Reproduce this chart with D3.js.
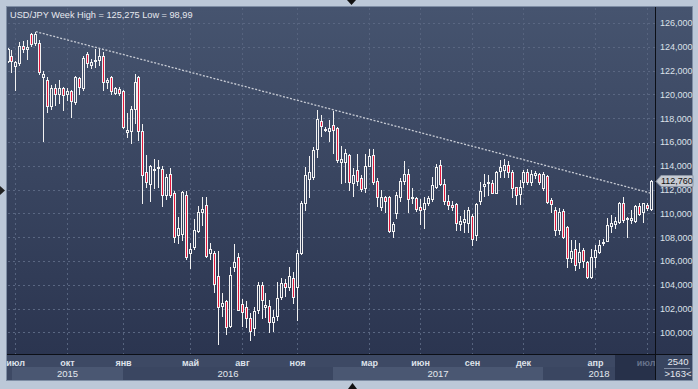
<!DOCTYPE html>
<html><head><meta charset="utf-8">
<script src="https://cdn.jsdelivr.net/npm/d3@7"></script>
<style>
html,body{margin:0;padding:0;background:#bcc8d8;overflow:hidden;}
svg{display:block;font-family:"Liberation Sans",Arial,sans-serif;}
</style></head><body>
<svg id="c" width="698" height="389"></svg>
<script>
// ---------- DATA ----------
const symbol = "USD/JPY";
const period = "Week";
const dates = [
"2015-06-22","2015-06-29","2015-07-06","2015-07-13","2015-07-20","2015-07-27","2015-08-03","2015-08-10","2015-08-17","2015-08-24",
"2015-08-31","2015-09-07","2015-09-14","2015-09-21","2015-09-28","2015-10-05","2015-10-12","2015-10-19","2015-10-26","2015-11-02",
"2015-11-09","2015-11-16","2015-11-23","2015-11-30","2015-12-07","2015-12-14","2015-12-21","2015-12-27","2015-12-28","2016-01-04",
"2016-01-11","2016-01-18","2016-01-25","2016-02-01","2016-02-08","2016-02-15","2016-02-22","2016-02-29","2016-03-07","2016-03-14",
"2016-03-21","2016-03-28","2016-04-04","2016-04-11","2016-04-18","2016-04-25","2016-05-02","2016-05-09","2016-05-16","2016-05-23",
"2016-05-30","2016-06-06","2016-06-13","2016-06-20","2016-06-27","2016-07-04","2016-07-11","2016-07-18","2016-07-25","2016-08-01",
"2016-08-08","2016-08-15","2016-08-22","2016-08-29","2016-09-05","2016-09-12","2016-09-19","2016-09-26","2016-10-03","2016-10-10",
"2016-10-17","2016-10-24","2016-10-31","2016-11-07","2016-11-14","2016-11-21","2016-11-28","2016-12-05","2016-12-12","2016-12-19",
"2016-12-25","2016-12-26","2017-01-02","2017-01-09","2017-01-16","2017-01-23","2017-01-30","2017-02-06","2017-02-13","2017-02-20",
"2017-02-27","2017-03-06","2017-03-13","2017-03-20","2017-03-27","2017-04-03","2017-04-10","2017-04-17","2017-04-24","2017-05-01",
"2017-05-08","2017-05-15","2017-05-22","2017-05-29","2017-06-05","2017-06-12","2017-06-19","2017-06-26","2017-07-03","2017-07-10",
"2017-07-17","2017-07-24","2017-07-31","2017-08-07","2017-08-14","2017-08-21","2017-08-28","2017-09-04","2017-09-11","2017-09-18",
"2017-09-25","2017-10-02","2017-10-09","2017-10-16","2017-10-23","2017-10-30","2017-11-06","2017-11-13","2017-11-20","2017-11-27",
"2017-12-04","2017-12-11","2017-12-18","2017-12-24","2017-12-25","2018-01-01","2018-01-08","2018-01-15","2018-01-22","2018-01-29",
"2018-02-05","2018-02-12","2018-02-19","2018-02-26","2018-03-05","2018-03-12","2018-03-19","2018-03-26","2018-04-02","2018-04-09",
"2018-04-16","2018-04-23","2018-04-30","2018-05-07","2018-05-14","2018-05-21","2018-05-28","2018-06-04","2018-06-11","2018-06-18",
"2018-06-25","2018-07-02","2018-07-09"
];
const open = [
122.8,123.2,122.4,122.6,124.1,123.85,125.05,124.3,124.35,121.5,
121.25,119.0,120.55,120.05,120.5,120.0,120.3,119.4,121.35,120.5,
123.4,122.5,122.8,122.85,123.25,121.0,121.45,120.15,120.45,120.25,
116.8,116.9,118.75,121.45,116.95,113.5,112.5,113.7,113.8,113.7,
111.55,113.35,111.7,108.15,108.3,111.55,106.65,107.2,108.5,110.15,
110.7,106.65,106.7,104.7,102.2,102.6,100.5,105.5,106.3,102.4,
102.1,101.2,100.35,101.9,104.0,102.15,102.2,100.9,101.4,103.0,
104.15,103.85,104.6,103.8,106.7,110.85,112.9,113.1,115.45,117.8,
117.0,116.95,117.4,117.15,114.35,114.35,114.9,112.55,113.65,112.95,
112.1,114.0,114.9,112.75,110.5,111.35,111.35,108.5,110.0,111.4,
112.75,113.3,111.3,111.3,110.5,110.35,110.85,111.2,112.25,114.05,
112.5,111.07,110.7,110.8,109.15,109.3,109.22,109.78,108.2,111.07,
112.3,112.6,112.53,111.74,113.59,113.65,114.07,113.51,112.19,111.63,
112.67,113.51,112.6,113.25,113.31,112.11,113.14,111.13,110.29,108.6,
110.23,108.83,106.22,106.98,105.94,106.92,105.94,104.68,106.31,106.78,
107.48,107.71,108.94,109.11,109.31,110.85,109.55,109.45,109.39,110.62,
110.15,110.71,110.34
];
const high = [
123.9,123.7,122.8,124.4,124.5,124.6,125.2,125.275,124.6,122.0,
121.45,120.8,120.9,121.25,120.65,120.5,120.4,121.55,121.5,123.2,
123.6,123.0,123.8,123.8,123.6,121.35,121.55,120.65,120.65,120.35,
118.45,119.0,121.7,121.55,117.5,114.9,114.05,114.55,114.5,113.95,
113.35,113.8,111.85,109.7,111.85,111.85,107.5,109.5,110.6,111.4,
111.4,107.5,106.8,106.85,103.3,102.7,105.5,107.4,106.65,102.8,
102.65,101.6,102.15,104.25,104.2,103.35,102.7,101.9,104.2,104.55,
104.5,105.5,105.1,106.9,111.0,113.9,114.85,115.6,118.7,118.25,
117.3,117.85,118.6,117.25,115.65,115.4,115.0,113.85,115.0,113.25,
115.0,115.45,115.45,112.95,112.0,111.45,111.45,109.3,111.8,113.0,
114.4,113.7,112.1,111.4,111.25,111.4,111.45,113.1,114.15,114.45,
112.86,111.55,111.0,110.9,109.8,110.28,110.5,109.95,110.85,112.66,
113.3,113.2,112.8,113.55,114.49,114.55,114.43,113.65,112.25,112.8,
113.65,113.7,113.65,113.6,113.4,113.5,113.23,111.27,110.57,110.43,
110.34,108.9,107.76,107.76,107.48,107.06,106.03,106.98,107.34,107.76,
107.82,109.59,109.87,109.67,110.99,111.41,109.73,110.29,110.71,110.85,
110.9,110.9,112.81
];
const low = [
122.7,121.9,120.4,122.5,123.6,123.0,124.05,124.15,121.75,116.1,
118.55,118.8,119.1,119.25,118.7,119.5,118.1,119.2,120.0,120.35,
122.3,122.2,122.3,122.5,120.4,120.5,120.0,120.05,119.95,117.15,
116.45,115.95,117.6,116.2,110.9,112.25,111.0,112.1,112.2,110.6,
111.2,111.4,107.6,107.55,107.8,106.2,105.4,107.05,108.4,109.05,
106.35,106.2,103.4,98.99,101.4,99.9,100.45,105.2,101.85,100.55,
100.45,99.4,99.8,101.65,101.2,101.3,100.0,100.1,101.05,102.8,
103.05,103.55,102.45,101.05,106.6,110.25,111.35,112.9,114.7,116.5,
116.9,116.05,115.05,114.3,112.55,112.6,111.95,111.5,112.4,111.85,
111.8,113.95,112.5,110.6,110.3,110.15,108.45,108.05,109.6,111.0,
112.5,110.15,110.85,110.2,109.1,108.8,110.7,111.05,112.1,112.4,
110.8,110.34,110.28,108.6,108.6,108.47,108.47,107.34,107.76,110.79,
111.46,111.55,111.68,111.68,113.09,113.09,113.09,111.4,110.79,110.79,
112.19,112.5,112.4,113.0,112.5,111.97,110.9,110.15,108.19,108.27,
107.9,105.47,105.94,105.24,105.38,105.52,104.54,104.57,105.47,106.64,
107.34,107.65,108.47,108.75,109.22,109.31,108.05,109.22,109.31,109.87,
109.31,110.29,110.29
];
const close = [
123.8,122.8,122.7,124.1,123.8,123.95,124.25,125.1,121.9,121.7,
119.0,120.5,120.05,120.5,119.95,120.3,119.45,121.45,120.65,123.1,
122.6,122.75,122.9,123.2,121.0,121.2,120.3,120.5,120.1,117.25,
117.05,118.8,121.05,116.95,113.2,112.65,113.95,113.75,113.9,111.55,
113.1,111.55,108.0,108.75,111.8,106.35,107.05,108.6,110.15,110.35,
106.45,107.0,104.1,102.1,102.45,100.45,104.8,105.95,101.9,101.75,
101.2,100.15,101.8,104.0,102.7,102.3,100.9,101.3,102.85,104.15,
103.8,104.7,103.0,106.65,110.85,113.2,113.5,115.3,117.9,117.35,
117.1,117.2,117.0,114.45,114.6,115.1,112.6,113.25,112.75,112.05,
114.0,114.8,112.65,111.35,111.4,111.05,108.55,109.1,111.55,112.75,
113.3,111.25,111.4,110.35,110.3,110.85,111.3,112.35,113.9,112.5,
111.07,110.7,110.5,109.16,109.4,109.5,110.28,107.82,110.8,111.9,
112.5,112.62,111.74,113.5,113.87,114.07,113.51,112.11,111.55,112.19,
113.51,112.6,113.3,113.4,112.67,113.31,110.99,110.79,108.6,110.15,
107.99,106.22,106.87,105.66,106.78,106.03,104.68,106.35,106.92,107.34,
107.59,109.03,109.17,109.39,110.85,109.45,109.6,109.59,110.62,109.95,
110.85,110.43,112.76
];
const priceTicks = [100,102,104,106,108,110,112,114,116,118,120,122,124,126];
const monthTicks = ["2015-07","2015-10","2016-01","2016-05","2016-08","2016-11","2017-03","2017-06","2017-09","2017-12","2018-04","2018-07"];
const monthLabels = ["июл","окт","янв","май","авг","ноя","мар","июн","сен","дек","апр","июл"];
const years = ["2015","2016","2017","2018"];
const trendFrom = {date:"2015-08-10", value:125.275};
const trendTo = {date:"2018-07-09", value:111.7};
const shadeFrom = "2018-05-07";
const infoTop = "2540";

// ---------- LAYOUT ----------
const W = 698, H = 389;
const P = {left:8, right:655, top:8, bottom:354};
const n = dates.length;
const x = d3.scaleLinear().domain([0, n-1]).range([8, 651]);
const y = d3.scaleLinear().domain([100, 126]).range([332.4, 23]);
const loc = d3.formatLocale({decimal:",", thousands:" ", grouping:[3], currency:["",""]});
const f3 = loc.format(".3f"), fTrim = loc.format(".3~f");

const svg = d3.select("#c");
const defs = svg.append("defs");
const gr = defs.append("linearGradient").attr("id","bg").attr("gradientUnits","userSpaceOnUse")
  .attr("x1",0).attr("y1",P.top).attr("x2",0).attr("y2",P.bottom);
gr.append("stop").attr("offset",0).attr("stop-color","#46546f");
gr.append("stop").attr("offset",1).attr("stop-color","#2b3550");
defs.append("clipPath").attr("id","clip").append("rect")
  .attr("x",P.left).attr("y",P.top).attr("width",P.right-P.left).attr("height",P.bottom-P.top);

// outer frame
svg.append("rect").attr("width",W).attr("height",H).attr("fill","#bcc8d8");
svg.append("rect").attr("x",6).attr("y",6).attr("width",687).attr("height",375).attr("fill","#7f8ea5");
svg.append("rect").attr("x",7).attr("y",7).attr("width",685).attr("height",347).attr("fill","url(#bg)");

// bottom axis background
svg.append("rect").attr("x",7).attr("y",354).attr("width",P.right-7).attr("height",26).attr("fill","#3d4964");
svg.append("rect").attr("x",P.right).attr("y",354).attr("width",692-P.right).attr("height",26).attr("fill","#384560");

// grid
const gridG = svg.append("g");
gridG.selectAll("line.h").data(priceTicks).join("line")
  .attr("x1",P.left).attr("x2",P.right)
  .attr("y1",d=>Math.round(y(d))+0.5).attr("y2",d=>Math.round(y(d))+0.5)
  .attr("stroke","#5a6782").attr("stroke-dasharray","2,3");
const monthIdx = monthTicks.map(m => dates.findIndex(d => d.startsWith(m)));
gridG.selectAll("line.v").data(monthIdx).join("line")
  .attr("x1",d=>Math.floor(x(d))+0.5).attr("x2",d=>Math.floor(x(d))+0.5)
  .attr("y1",P.top).attr("y2",P.bottom)
  .attr("stroke","#56637e").attr("stroke-dasharray","2,3");

// year bands
const yearStart = years.map(yy => dates.findIndex(d => d.startsWith(yy)));
const band = svg.append("g");
years.forEach((yy,k)=>{
  const x0 = Math.max(Math.floor(x(yearStart[k])), P.left+4);
  const x1 = k < years.length-1 ? Math.floor(x(yearStart[k+1])) : P.right;
  band.append("rect").attr("x",x0).attr("y",367).attr("width",x1-x0).attr("height",13)
    .attr("fill", k%2===0 ? "#4a5772" : "#3a4661");
  band.append("text").attr("x",(x0+x1)/2).attr("y",376.5).attr("text-anchor","middle")
    .attr("font-size","9.5px").attr("fill","#e4e8ee").text(yy);
});
const shadeX = Math.floor(x(dates.indexOf(shadeFrom)));
svg.append("rect").attr("x",shadeX).attr("y",354).attr("width",P.right-shadeX).attr("height",26).attr("fill","#27314a");

// month labels
svg.append("g").selectAll("text").data(monthIdx).join("text")
  .attr("x",(d,k)=> Math.min(Math.floor(x(d))+0.5, P.right-9))
  .attr("y",366).attr("text-anchor","middle")
  .attr("font-size","9px").attr("font-weight","bold")
  .attr("fill",(d,k)=> Math.floor(x(d))>=shadeX ? "#66728b" : "#dde2ea")
  .text((d,k)=>monthLabels[k]);

// candles
const cg = svg.append("g").attr("clip-path","url(#clip)");
const idx = d3.range(n);
idx.forEach(i=>{
  const o=open[i], c=close[i];
  const hi=Math.max(high[i],o,c), lo=Math.min(low[i],o,c);
  const cx = Math.floor(x(i));
  const up = c >= o;
  cg.append("line").attr("x1",cx+0.5).attr("x2",cx+0.5)
    .attr("y1",Math.round(y(hi))).attr("y2",Math.round(y(lo))+1)
    .attr("stroke","#f2f2f2").attr("stroke-width",1);
  const yt = Math.round(y(Math.max(o,c))), yb = Math.round(y(Math.min(o,c)));
  cg.append("rect").attr("x",cx-0.5).attr("width",2)
    .attr("y",yt+0.5).attr("height",Math.max(yb-yt,1))
    .attr("fill", up ? "url(#bg)" : "#e3183c")
    .attr("stroke","#f2f2f2").attr("stroke-width",1);
});

// trendline
const ti0 = dates.indexOf(trendFrom.date), ti1 = dates.indexOf(trendTo.date);
cg.append("line").attr("x1",x(ti0)).attr("y1",y(trendFrom.value))
  .attr("x2",x(ti1)).attr("y2",y(trendTo.value))
  .attr("stroke","#c8ccd5").attr("stroke-width",1.3).attr("stroke-dasharray","2,1.6");

// separators
svg.append("line").attr("x1",P.right+0.5).attr("x2",P.right+0.5).attr("y1",7).attr("y2",380).attr("stroke","#0c0f16");
svg.append("line").attr("x1",7).attr("x2",692).attr("y1",P.bottom+0.5).attr("y2",P.bottom+0.5).attr("stroke","#0c0f16");

// right axis labels
svg.append("g").selectAll("text").data(priceTicks).join("text")
  .attr("x",660).attr("y",d=>y(d)+3.3).attr("font-size","9px").attr("fill","#dce1e9")
  .text(d=>f3(d));

// price label
const last = close[n-1], py = Math.round(y(last));
svg.append("path")
  .attr("d",`M656,${py+0.5} L661,${py-5.5} L693,${py-5.5} L693,${py+5.5} L661,${py+5.5} Z`)
  .attr("fill","#c5cad2").attr("stroke","#8e97a6");
svg.append("text").attr("x",661).attr("y",py+3.4).attr("font-size","9px").attr("fill","#111")
  .text(f3(last));

// title
const hiAll = d3.max(high), loAll = d3.min(low);
svg.append("text").attr("x",10).attr("y",17.5).attr("font-size","9.2px").attr("fill","#e6e9ef")
  .text(`${symbol} ${period} High = ${fTrim(hiAll)} Low = ${fTrim(loAll)}`);

// info box
svg.append("text").attr("x",678).attr("y",364.5).attr("text-anchor","middle").attr("font-size","9.5px").attr("fill","#e6e9ef").text(infoTop);
svg.append("line").attr("x1",664).attr("x2",690).attr("y1",368.5).attr("y2",368.5).attr("stroke","#7f8ca3");
svg.append("text").attr("x",678).attr("y",377).attr("text-anchor","middle").attr("font-size","9.5px").attr("fill","#e6e9ef").text(`>${n}<`);

// small triangles on frame
svg.append("path").attr("d","M347,0 L356,0 L351.5,5 Z").attr("fill","#111");
svg.append("path").attr("d","M348,389 L357,389 L352.5,383 Z").attr("fill","#111");
svg.append("path").attr("d","M0,186 L5,190.5 L0,195 Z").attr("fill","#222");
</script>
</body></html>
